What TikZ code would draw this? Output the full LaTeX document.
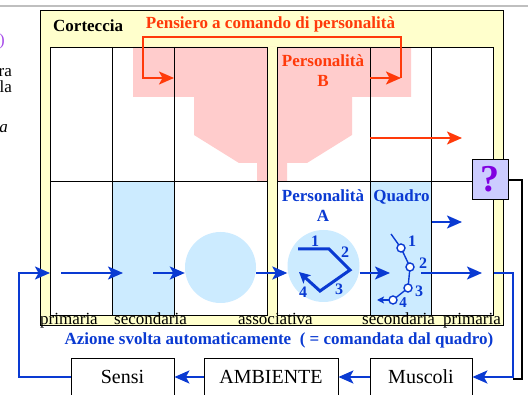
\documentclass[tikz,border=0pt]{standalone}
\usepackage{fontspec}
\setmainfont{Liberation Serif}
\usetikzlibrary{arrows.meta}
\tikzset{>={Stealth[length=15pt,width=13pt,inset=3.5pt]}}

\definecolor{giallino}{HTML}{FFFFCC}
\definecolor{azzurro}{HTML}{CCEBFF}
\definecolor{rosa}{HTML}{FFCCCC}
\definecolor{rosso}{HTML}{FF3A0A}
\definecolor{blu}{HTML}{0A3AD2}
\definecolor{viola}{HTML}{8000E0}
\definecolor{lilla}{HTML}{CCCCFF}

\tikzset{
  grassetto/.style={font=\fontsize{17}{20}\selectfont\bfseries, inner sep=0pt},
  normale/.style={font=\fontsize{17}{20}\selectfont, inner sep=0pt},
  cifra/.style={font=\fontsize{16}{18}\selectfont\bfseries, text=blu, inner sep=0pt},
  freccia/.style={blu, line width=2pt, ->},
  scatola/.style={draw, line width=0.8pt, font=\fontsize{20}{24}\selectfont,
    text height=14pt, text depth=30pt, inner ysep=12pt, inner xsep=0pt, anchor=base},
  pallino/.style={draw=blu, fill=white, line width=1.4pt}
}

\begin{document}
\begin{tikzpicture}[x=1pt,y=-1pt]

  \useasboundingbox (0,0) rectangle (528,395);
  \fill[white] (0,0) rectangle (528,395);
  \draw[black!25, line width=1.5pt] (0,6) -- (528,6);

  % frammenti a sinistra
  \node[normale, text=viola!70, anchor=base east] (parentesi) at (5,46) {)};
  \node[normale, anchor=base east] (fra) at (12,77) {ra};
  \node[normale, anchor=base east] (fla) at (12,93) {la};
  \node[normale, anchor=base east] (fa) at (8,133) {\itshape a};

  % corteccia
  \draw[fill=giallino, line width=0.8pt] (40,10) rectangle (503,325);
  \fill[white] (50,47) rectangle (267,315);
  \fill[white] (277,47) rectangle (493,315);

  \fill[rosa] (133,47) -- (411,47) -- (411,97) -- (352,97) -- (352,135) -- (307,163)
    -- (287,163) -- (287,181) -- (257,181) -- (257,163) -- (239,163) -- (194,135)
    -- (194,97) -- (133,97) -- cycle;
  \fill[giallino] (267,47) rectangle (277,315);

  \fill[azzurro] (112,181) rectangle (174,315);
  \fill[azzurro] (370,181) rectangle (431,315);

  \draw[line width=0.8pt] (112,47) -- (112,315);
  \draw[line width=0.8pt] (174,47) -- (174,315);
  \draw[line width=0.8pt] (50,181) -- (267,181);
  \draw[line width=0.8pt] (370,47) -- (370,315);
  \draw[line width=0.8pt] (431,47) -- (431,315);
  \draw[line width=0.8pt] (277,181) -- (493,181);
  \draw[line width=0.8pt] (50,47) rectangle (267,315);
  \draw[line width=0.8pt] (277,47) rectangle (493,315);

  \node[circle, fill=azzurro, minimum size=71pt, inner sep=0pt] (assoc) at (220.5,267.5) {};
  \node[circle, fill=azzurro, minimum size=72pt, inner sep=0pt] (persA) at (323.5,266) {};

  % testi
  \node[grassetto, anchor=base west] (corteccia) at (53,32) {Corteccia};
  \node[grassetto, text=rosso, anchor=base] (pensiero) at (270.5,29) {Pensiero a comando di personalità};
  \node[grassetto, text=rosso, anchor=base] (persB) at (323,67) {Personalità};
  \node[grassetto, text=rosso, anchor=base] (persBb) at (323,87) {B};
  \node[grassetto, text=blu, anchor=base] (persAt) at (323,202) {Personalità};
  \node[grassetto, text=blu, anchor=base] (persAa) at (323,222) {A};
  \node[grassetto, text=blu, anchor=base] (quadro) at (401.5,202) {Quadro};

  \node[normale, anchor=base west] (prim1) at (40,325) {primaria};
  \node[normale, anchor=base west] (sec1) at (114,325) {secondaria};
  \node[normale, anchor=base west] (assocl) at (238,325) {associativa};
  \node[normale, anchor=base west] (sec2) at (362,325) {secondaria};
  \node[normale, anchor=base west] (prim2) at (443,325) {primaria};

  \node[grassetto, text=blu, anchor=base] (azione) at (279,345)
    {Azione svolta automaticamente \ ( = comandata dal quadro)};

  % pensiero a comando
  \coordinate (P1) at (143,37);
  \coordinate (P2) at (401,37);
  \coordinate (P3) at (143,78);
  \coordinate (P4) at (174,78);
  \coordinate (P5) at (370,78);
  \coordinate (P6) at (401,78);
  \draw[rosso, line width=2pt, ->] (P6) -- (P2) -- (P1) -- (P3) -- (P4);
  \draw[rosso, line width=2pt, ->] (P5) -- (P6);
  \draw[rosso, line width=2pt, ->] (370,138) -- (462,138);

  % percorso automatico
  \draw[freccia] (61,273) -- (123,273);
  \draw[freccia] (153,273) -- (assoc.west |- 0,273);
  \draw[freccia] (assoc.east |- 0,273) -- (persA.west |- 0,273);
  \draw[freccia] (persA.east |- 0,273) -- (390,273);
  \draw[freccia] (421,273) -- (482,273);
  \draw[freccia] (432,222) -- (462,222);

  % personalita A
  \coordinate (A1) at (298,249);
  \coordinate (A2) at (329,249);
  \coordinate (A3) at (350,270);
  \coordinate (A4) at (320,291);
  \coordinate (A5) at (299,272);
  \draw[blu, line width=3pt, -{Stealth[length=11pt,width=11pt,inset=2.5pt]}]
    (A1) -- (A2) -- (A3) -- (A4) -- (A5);
  \node[cifra] (a1) at (315,241) {1};
  \node[cifra] (a2) at (345,252) {2};
  \node[cifra] (a3) at (339,289) {3};
  \node[cifra] (a4) at (303,292) {4};

  % quadro
  \coordinate (Q0) at (391,234);
  \coordinate (Q1) at (401,248);
  \coordinate (Q2) at (410,267);
  \coordinate (Q3) at (408,288);
  \coordinate (Q4) at (393,300);
  \coordinate (Q5) at (377,300);
  \draw[blu, line width=1.4pt] (Q0) -- (Q1) -- (Q2) -- (Q3) -- (Q4);
  \draw[blu, line width=1.4pt, -{Stealth[length=7pt,width=7pt,inset=1.5pt]}] (Q4) -- (Q5);
  \filldraw[pallino] (Q1) circle (4);
  \filldraw[pallino] (Q2) circle (4);
  \filldraw[pallino] (Q3) circle (4);
  \filldraw[pallino] (Q4) circle (4);
  \node[cifra] (q1) at (412,241) {1};
  \node[cifra] (q2) at (423,263) {2};
  \node[cifra] (q3) at (419,291) {3};
  \node[cifra, font=\fontsize{15}{17}\selectfont\bfseries] (q4) at (403,303) {4};

  % domanda
  \node[draw, fill=lilla, line width=0.8pt, minimum width=36pt, minimum height=40pt,
    inner sep=0pt, text=viola, font=\fontsize{38}{40}\selectfont\bfseries] (domanda) at (490,179) {?};

  % ambiente
  \node[scatola, minimum width=103pt] (sensi) at (122.5,384) {Sensi};
  \node[scatola, minimum width=134pt] (ambiente) at (271,384) {AMBIENTE};
  \node[scatola, minimum width=102pt] (muscoli) at (421,384) {Muscoli};

  \coordinate (R1) at (522,180);
  \coordinate (R2) at (522,379);
  \coordinate (R3) at (513,379);
  \draw[line width=2pt] (domanda.east |- R1) -- (R1) -- (R2) -- (R3);

  \coordinate (E1) at (494,273);
  \coordinate (E2) at (513,273);
  \coordinate (E3) at (513,377);
  \draw[freccia] (E1) -- (E2) -- (E3) -- (muscoli.east |- E3);
  \draw[freccia] (muscoli.west |- E3) -- (ambiente.east |- E3);
  \draw[freccia] (ambiente.west |- E3) -- (sensi.east |- E3);

  \coordinate (S1) at (19,377);
  \coordinate (S2) at (19,273);
  \coordinate (S3) at (50,273);
  \draw[freccia] (sensi.west |- E3) -- (S1) -- (S2) -- (S3);

\end{tikzpicture}
\end{document}
